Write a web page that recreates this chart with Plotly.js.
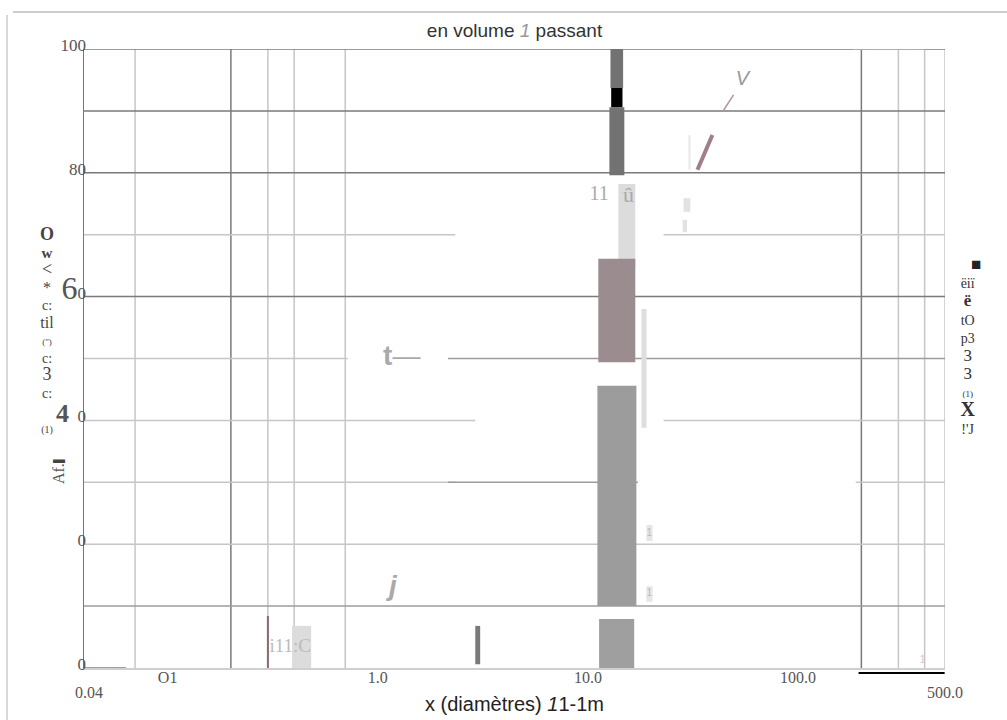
<!DOCTYPE html>
<html><head><meta charset="utf-8">
<script src="https://cdn.plot.ly/plotly-3.0.1.min.js"></script>
<style>html,body{margin:0;padding:0;background:#fff}#chart{width:1007px;height:720px}</style>
</head><body><div id="chart"></div>
<script>
// ---- axis ticks ----
const xRange = [0.04, 500];
const xTickVals = [0.1, 1, 10, 100];
const xTickText = ['O1', '1.0', '10.0', '100.0'];
const xEndVals = [0.04, 500];
const xEndText = ['0.04', '500.0'];
const yTickVals = [0, 20, 40, 60, 80, 100];
const yTickText = ['0', '0', "<span style='font-size:26px'><b>4</b></span>  0", "<span style='font-size:32px'>6</span>0", '80', '100'];

// ---- grid lines (data units) ----
const hGridLevel = [100, 90, 80, 70, 70, 60, 50, 50, 40, 40, 30, 30, 30, 20, 10];
const hGridFrom  = [0.04, 0.04, 0.04, 0.04, 22.9, 0.04, 0.04, 2.16, 0.04, 22.9, 0.04, 2.16, 188, 0.04, 0.04];
const hGridTo    = [500, 500, 500, 2.34, 500, 500, 0.72, 500, 2.91, 500, 2.34, 17.3, 500, 500, 500];
const hGridTone  = ['d', 'd', 'd', 'l', 'l', 'd', 'l', 'm', 'l', 'l', 'l', 'm', 'l', 'l', 'm'];
const vGridVals  = [0.07, 0.2, 0.3, 0.4, 0.7, 200, 300, 400, 500];
const vGridTone  = ['l', 'd', 'l', 'l', 'l', 'd', 'l', 'l', 'l'];

// ---- rectangular marks (diameter µm, % passant) ----
const barX0 = [12.65, 12.9, 12.8, 13.96, 11.2, 17.97, 11.09, 11.3, 2.91, 0.391, 28.5, 28.2, 18.97, 18.97];
const barX1 = [14.9, 14.6, 14.7, 16.8, 16.8, 19.0, 17.0, 16.6, 3.07, 0.482, 30.7, 29.6, 20.3, 20.3];
const barY0 = [79.6, 90.6, 93.7, 64.6, 49.4, 38.8, 10.0, 0, 0.6, 0, 73.7, 70.4, 20.5, 10.7];
const barY1 = [90.6, 93.7, 100, 78.2, 66.1, 58.0, 45.6, 7.9, 6.8, 6.8, 75.9, 72.4, 23.1, 13.2];
const barColor = ['#727272', '#000000', '#727272', '#dcdcdc', '#9b8c8f', '#dedede', '#9c9c9c', '#9f9f9f', '#7a7a7a', '#dcdcdc', '#e2e2e2', '#e2e2e2', '#e6e6e6', '#e6e6e6'];

// ---- line marks ----
const segX0 = [33.2, 44.2, 0.30, 30.4, 0.04, 183];
const segX1 = [39.1, 49.3, 0.30, 30.4, 0.0634, 404];
const segY0 = [80.5, 90.1, 0, 80.5, 0, 100];
const segY1 = [86.1, 92.6, 8.4, 86.1, 0, 100];
const segColor = ['#a07f88', '#b3949c', '#8a6a70', '#e8e8e8', '#d4879a', '#c9a0aa'];
const segWidth = [4, 1.5, 2, 2, 2, 2];

// ---- text marks ----
const txtX = [11.3, 15.6, 1.3, 1.18, 54.4, 0.383, 19.6, 19.6, 391];
const txtY = [76.4, 76.1, 50.1, 12.9, 95, 3.4, 21.8, 12.0, 1.3];
const txtS = ['11', 'û', '<b>t</b>—', '<i><b>j</b></i>', '<i>V</i>', 'i11:C', '1', '1', '1'];
const txtSize = [20, 22, 28, 28, 20, 19, 10, 10, 11];
const txtColor = ['#aaaaaa', '#aaaaaa', '#aaaaaa', '#aaaaaa', '#999999', '#bbbbbb', '#bbbbbb', '#bbbbbb', '#cccccc'];
const txtFamily = ['Liberation Serif', 'Liberation Serif', 'Liberation Sans', 'Liberation Sans', 'Liberation Sans', 'Liberation Serif', 'Liberation Sans', 'Liberation Sans', 'Liberation Sans'];

const traces = [];
for (let i = 0; i < barX0.length; i++) {
  traces.push({
    type: 'scatter', mode: 'lines',
    x: [barX0[i], barX1[i], barX1[i], barX0[i], barX0[i]],
    y: [barY0[i], barY0[i], barY1[i], barY1[i], barY0[i]],
    fill: 'toself', fillcolor: barColor[i],
    line: {width: 0, color: barColor[i]},
    hoverinfo: 'skip', showlegend: false
  });
}
for (let i = 0; i < segX0.length; i++) {
  traces.push({
    type: 'scatter', mode: 'lines',
    x: [segX0[i], segX1[i]], y: [segY0[i], segY1[i]],
    line: {width: segWidth[i], color: segColor[i]},
    hoverinfo: 'skip', showlegend: false
  });
}
traces.push({
  type: 'scatter', mode: 'text', x: txtX, y: txtY, text: txtS,
  textposition: 'middle center',
  textfont: {size: txtSize, color: txtColor, family: txtFamily},
  hoverinfo: 'skip', showlegend: false, cliponaxis: false
});

const tone = {d: '#7a7a7a', m: '#9c9c9c', l: '#c6c6c6'};
const shapes = [];
for (let i = 0; i < hGridLevel.length; i++) {
  shapes.push({type: 'line', layer: 'below', xref: 'x', yref: 'y',
    x0: hGridFrom[i], x1: hGridTo[i], y0: hGridLevel[i], y1: hGridLevel[i],
    line: {color: tone[hGridTone[i]], width: 1.5}});
}
for (let i = 0; i < vGridVals.length; i++) {
  shapes.push({type: 'line', layer: 'below', xref: 'x', yref: 'paper',
    x0: vGridVals[i], x1: vGridVals[i], y0: 0, y1: 1,
    line: {color: tone[vGridTone[i]], width: 1.5}});
}
// black underline at bottom right
shapes.push({type: 'line', xref: 'x', yref: 'paper', x0: 194, x1: 498, y0: -0.008, y1: -0.008, line: {color: '#000', width: 2}});
// page frame
shapes.push({type: 'line', xref: 'paper', yref: 'paper', x0: -0.0825, x1: 1.072, y0: 1.0598, y1: 1.0598, line: {color: '#999', width: 1.2}});
shapes.push({type: 'line', xref: 'paper', yref: 'paper', x0: -0.0894, x1: -0.0894, y0: -0.084, y1: 1.055, line: {color: '#cccccc', width: 1.5}});

const annotations = [];
for (let i = 0; i < xEndVals.length; i++) {
  annotations.push({xref: 'x', yref: 'paper', x: Math.log10(xEndVals[i]), y: -0.039,
    text: xEndText[i], showarrow: false, xanchor: 'center', yanchor: 'middle', xshift: i === 0 ? 5 : 0,
    font: {family: 'Liberation Serif', size: 16, color: '#555'}});
}
annotations.push({xref: 'paper', yref: 'paper', x: -0.0432, y: 0.546, showarrow: false,
  xanchor: 'center', yanchor: 'middle', align: 'center',
  font: {family: 'Liberation Serif', size: 13.5, color: '#444'},
  text: "<span style='font-size:18px'><b>O</b></span><br><span style='font-size:15px'><b>w</b></span><br><span style='font-size:18px'>&lt;</span><br><span style='font-size:16px'>*</span><br><span style='font-size:14px'>c:</span><br><span style='font-size:16px'>til</span><br><span style='font-size:9px'>(\")</span><br><span style='font-size:14px'>c:</span><br><span style='font-size:18px'>3</span><br><span style='font-size:14px'>c:</span><br> <br><span style='font-size:10px'>(1)</span>"});
annotations.push({xref: 'paper', yref: 'paper', x: -0.0395, y: (668 - 468) / 619, showarrow: false,
  text: '<b>▬</b>', font: {family: 'Liberation Sans', size: 12, color: '#444'}, xshift: 1});
annotations.push({xref: 'paper', yref: 'paper', x: -0.0418, y: (668 - 486) / 619, showarrow: false,
  text: 'Af.', textangle: -90, font: {family: 'Liberation Serif', size: 16, color: '#555'}});
annotations.push({xref: 'paper', yref: 'paper', x: 1.0267, y: 0.52, showarrow: false,
  xanchor: 'center', yanchor: 'middle', align: 'center',
  font: {family: 'Liberation Serif', size: 14, color: '#333'},
  text: "<span style='font-size:17px;color:#222'>    ■</span><br>ëiï<br><span style='font-size:17px'><b>ë</b></span><br>tO<br>p3<br><span style='font-size:17px'>3</span><br><span style='font-size:17px'>3</span><br><span style='font-size:9px'>(1)</span><br><span style='font-size:20px'><b>X</b></span><br>!'J"});

const layout = {
  width: 1007, height: 720,
  margin: {l: 84, r: 62, t: 49, b: 52},
  paper_bgcolor: '#ffffff', plot_bgcolor: '#ffffff', showlegend: false,
  title: {text: "en volume <span style='color:#999'><i>1</i></span> passant",
    font: {family: 'Liberation Sans', size: 19, color: '#333'},
    x: 0.5, xref: 'paper', xanchor: 'center', y: 1 - 30 / 720, yref: 'container', yanchor: 'middle'},
  xaxis: {type: 'log', range: [Math.log10(xRange[0]), Math.log10(xRange[1])],
    tickmode: 'array', tickvals: xTickVals, ticktext: xTickText,
    showgrid: false, zeroline: false, showline: true, linecolor: '#cfcfcf', linewidth: 1.5, ticks: '',
    tickfont: {family: 'Liberation Serif', size: 16, color: '#555'}, ticklabelstandoff: -6,
    title: {text: "x (diamètres) <i>1</i>1-1m", font: {family: 'Liberation Sans', size: 20, color: '#222'}, standoff: 12},
    automargin: false},
  yaxis: {range: [0, 100], tickmode: 'array', tickvals: yTickVals, ticktext: yTickText,
    showgrid: false, zeroline: false, showline: true, linecolor: '#777', linewidth: 1.5, ticks: '',
    tickfont: {family: 'Liberation Serif', size: 17, color: '#555'}, ticklabelshift: -4, ticklabelstandoff: -7,
    automargin: false},
  shapes: shapes, annotations: annotations
};
Plotly.newPlot('chart', traces, layout, {displayModeBar: false, staticPlot: true});
</script></body></html>
